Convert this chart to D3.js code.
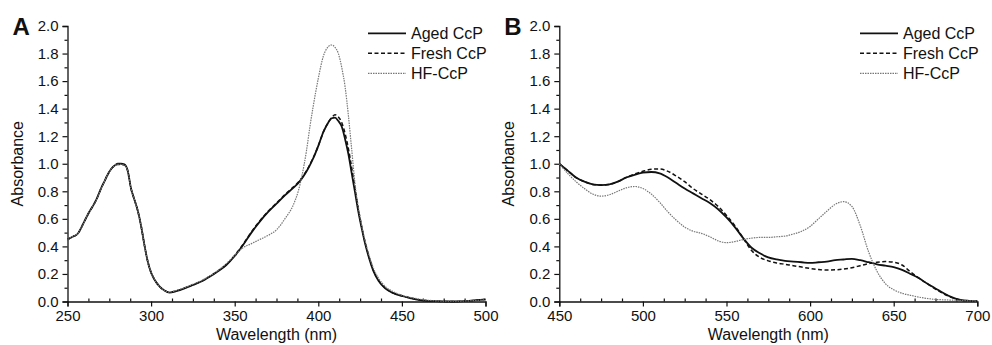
<!DOCTYPE html>
<html><head><meta charset="utf-8">
<script src="https://cdn.jsdelivr.net/npm/d3@7"></script>
<style>
body{margin:0;background:#fff;}
svg text{font-family:"Liberation Sans",Arial,sans-serif;fill:#111;}
</style></head><body>
<svg id="chart" width="992" height="345"></svg>
<script>
// ---------- DATA ----------
const seriesNames = ["Aged CcP", "Fresh CcP", "HF-CcP"];
const yTicks = [0.0, 0.2, 0.4, 0.6, 0.8, 1.0, 1.2, 1.4, 1.6, 1.8, 2.0];
const xTicksA = [250, 300, 350, 400, 450, 500];
const xTicksB = [450, 500, 550, 600, 650, 700];

const waveA = [250,253,256,258,260,263,266,268,270,272,274,276,278,280,282,284,286,288,290,292,294,296,298,300,302,305,308,311,315,320,325,330,335,340,345,350,355,360,365,370,375,380,385,388,390,393,395,397,400,403,406,408,410,412,414,416,418,420,422,424,426,428,430,433,436,440,445,450,455,460,470,480,490,500];
const agedA = [0.45,0.47,0.49,0.53,0.58,0.65,0.71,0.76,0.82,0.87,0.92,0.96,0.985,1.0,1.0,0.995,0.95,0.82,0.74,0.66,0.55,0.41,0.29,0.21,0.16,0.11,0.08,0.065,0.075,0.095,0.12,0.145,0.18,0.22,0.265,0.33,0.41,0.50,0.58,0.65,0.71,0.77,0.825,0.86,0.89,0.945,0.99,1.04,1.13,1.23,1.30,1.33,1.335,1.31,1.27,1.18,1.07,0.93,0.79,0.65,0.53,0.42,0.33,0.22,0.15,0.095,0.06,0.04,0.025,0.012,0.002,0.0,0.005,0.015];
const freshA = [0.45,0.47,0.49,0.53,0.58,0.65,0.71,0.76,0.82,0.87,0.92,0.96,0.985,0.995,0.995,0.99,0.95,0.82,0.74,0.66,0.55,0.41,0.29,0.21,0.16,0.11,0.08,0.067,0.077,0.097,0.122,0.147,0.182,0.222,0.268,0.335,0.415,0.505,0.585,0.655,0.715,0.775,0.83,0.865,0.895,0.95,0.995,1.045,1.13,1.23,1.30,1.335,1.355,1.34,1.30,1.22,1.11,0.97,0.82,0.67,0.54,0.43,0.34,0.225,0.155,0.098,0.062,0.042,0.026,0.013,0.002,0.0,0.005,0.015];
const hfA = [0.45,0.47,0.49,0.53,0.58,0.65,0.71,0.76,0.82,0.87,0.92,0.96,0.985,0.995,0.995,0.99,0.95,0.82,0.74,0.66,0.55,0.41,0.29,0.21,0.16,0.11,0.08,0.068,0.08,0.10,0.125,0.15,0.185,0.225,0.275,0.335,0.39,0.42,0.45,0.48,0.52,0.60,0.70,0.80,0.90,1.10,1.27,1.42,1.62,1.78,1.85,1.862,1.845,1.80,1.70,1.56,1.35,1.10,0.85,0.68,0.55,0.44,0.35,0.24,0.17,0.11,0.07,0.045,0.03,0.018,0.005,0.002,0.005,0.012];

const waveB = [450,455,460,465,470,475,480,485,490,495,500,505,510,515,520,525,530,535,540,545,550,555,560,565,570,575,580,585,590,595,600,605,610,615,620,625,630,635,640,645,650,655,660,665,670,675,680,685,690,695,700];
const agedB = [1.0,0.95,0.90,0.87,0.85,0.845,0.85,0.87,0.90,0.92,0.935,0.94,0.93,0.90,0.86,0.82,0.785,0.75,0.715,0.67,0.61,0.54,0.46,0.39,0.35,0.32,0.305,0.295,0.29,0.285,0.28,0.285,0.29,0.30,0.305,0.31,0.30,0.285,0.27,0.26,0.25,0.23,0.20,0.17,0.13,0.095,0.06,0.03,0.012,0.005,0.002];
const freshB = [1.0,0.95,0.90,0.87,0.85,0.845,0.85,0.87,0.90,0.925,0.945,0.96,0.962,0.945,0.91,0.87,0.82,0.78,0.74,0.69,0.625,0.55,0.46,0.37,0.32,0.295,0.28,0.27,0.26,0.25,0.24,0.232,0.228,0.23,0.235,0.245,0.26,0.275,0.285,0.29,0.285,0.265,0.215,0.17,0.13,0.09,0.055,0.028,0.01,0.004,0.002];
const hfB = [1.0,0.93,0.87,0.82,0.78,0.765,0.775,0.80,0.825,0.835,0.82,0.78,0.72,0.65,0.59,0.54,0.51,0.495,0.47,0.44,0.427,0.435,0.45,0.46,0.465,0.465,0.47,0.475,0.49,0.51,0.545,0.60,0.655,0.705,0.725,0.69,0.55,0.36,0.22,0.13,0.085,0.06,0.045,0.032,0.022,0.015,0.012,0.01,0.008,0.005,0.003];

// ---------- DRAW ----------
const svg = d3.select("#chart");
const styles = [
  {stroke:"#111", width:1.8, dash:null},
  {stroke:"#111", width:1.5, dash:"4,2.5"},
  {stroke:"#777", width:1.2, dash:"1.5,1"}
];

function panel(opts){
  const g = svg.append("g");
  const x = d3.scaleLinear().domain(opts.xDomain).range([opts.x0, opts.x1]);
  const y = d3.scaleLinear().domain([0, 2]).range([301.5, 26]);

  g.append("g").attr("transform", `translate(${opts.x0},0)`)
    .call(d3.axisLeft(y).tickValues(yTicks).tickFormat(d3.format(".1f")).tickSize(5).tickPadding(4));
  g.append("g").attr("transform", `translate(${opts.x0},0)`)
    .call(d3.axisLeft(y).tickValues(d3.range(0.1, 2.0, 0.2)).tickFormat("").tickSize(3))
    .select(".domain").remove();
  const xAx = g.append("g").attr("transform", "translate(0,301.5)")
    .call(d3.axisBottom(x).tickValues(opts.xTicks).tickSize(5).tickPadding(4));
  const step = (opts.xDomain[1]-opts.xDomain[0])/20;
  const minors = d3.range(0,21).map(i=>opts.xDomain[0]+i*step).filter((d,i)=>i%4!==0);
  g.append("g").attr("transform", "translate(0,301.5)")
    .call(d3.axisBottom(x).tickValues(minors).tickFormat("").tickSize(-3))
    .select(".domain").remove();

  g.selectAll(".domain").attr("stroke","#111").attr("stroke-width",1.3);
  g.selectAll(".tick line").attr("stroke","#111").attr("stroke-width",1.2);
  g.selectAll(".tick text").attr("font-size",15).attr("fill","#111")
    .attr("font-family",'"Liberation Sans",Arial,sans-serif');
  xAx.selectAll(".tick text").attr("dy","0.72em");

  const line = d3.line().x(d=>x(d[0])).y(d=>y(d[1])).curve(d3.curveMonotoneX);
  opts.series.forEach((vals,i)=>{
    const pts = opts.wave.map((w,k)=>[w, vals[k]]);
    g.append("path").datum(pts).attr("d", line)
      .attr("fill","none").attr("stroke",styles[i].stroke)
      .attr("stroke-width",styles[i].width)
      .attr("stroke-dasharray",styles[i].dash);
  });

  g.append("text").attr("x",(opts.x0+opts.x1)/2).attr("y",339.5)
    .attr("text-anchor","middle").attr("font-size",16).text("Wavelength (nm)");
  g.append("text").attr("transform",`translate(${opts.x0-45},163.7) rotate(-90)`)
    .attr("text-anchor","middle").attr("font-size",16).text("Absorbance");
  g.append("text").attr("x",opts.x0-55).attr("y",35).attr("font-size",24)
    .attr("font-weight","bold").text(opts.letter);

  seriesNames.forEach((n,i)=>{
    const ly = 33.3 + i*20;
    g.append("line").attr("x1",opts.lx).attr("x2",opts.lx+38).attr("y1",ly).attr("y2",ly)
      .attr("stroke",styles[i].stroke).attr("stroke-width",styles[i].width)
      .attr("stroke-dasharray",styles[i].dash);
    g.append("text").attr("x",opts.lx+43).attr("y",ly+5.7).attr("font-size",16).text(n);
  });
}

panel({xDomain:[250,500], x0:67.5, x1:485.5, xTicks:xTicksA, wave:waveA,
  series:[agedA, freshA, hfA], letter:"A", lx:368});
panel({xDomain:[450,700], x0:559.3, x1:977.3, xTicks:xTicksB, wave:waveB,
  series:[agedB, freshB, hfB], letter:"B", lx:860});
</script>
</body></html>
